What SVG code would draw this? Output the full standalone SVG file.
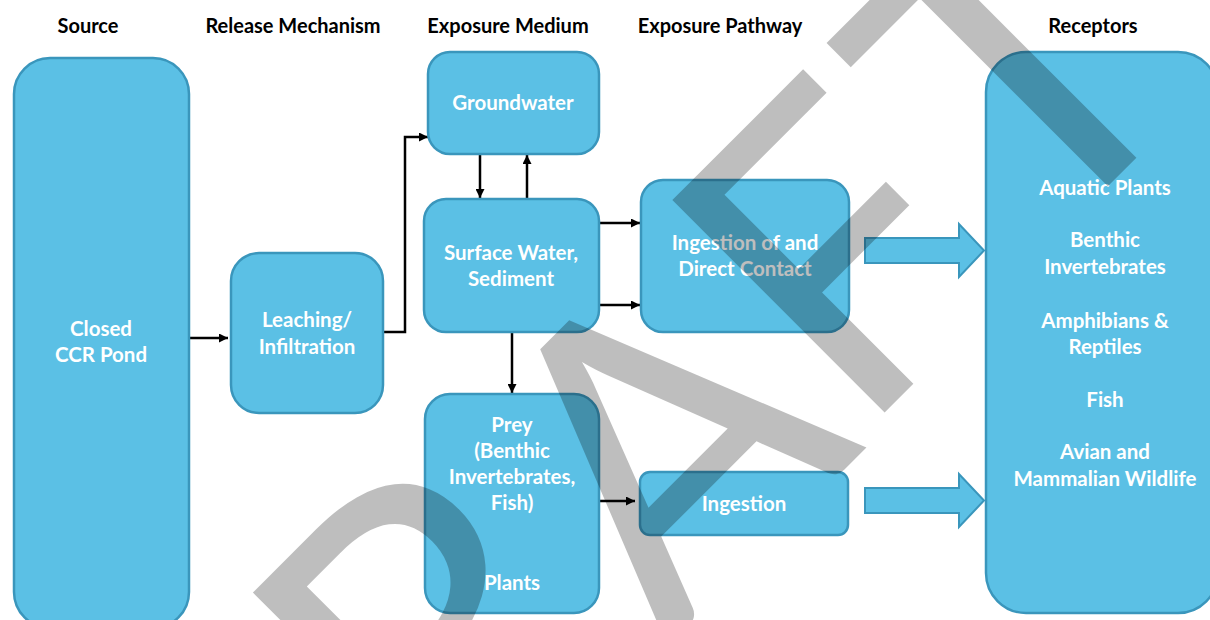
<svg xmlns="http://www.w3.org/2000/svg" width="1210" height="620" viewBox="0 0 1210 620">
<defs>
<style>
.box{fill:#5BC0E5;stroke:#3A96BC;stroke-width:2.5}
.hdr{font-family:Lato,"Liberation Sans",sans-serif;font-weight:bold;font-size:20px;fill:#000;text-anchor:middle}
.lbl{font-family:Lato,"Liberation Sans",sans-serif;font-weight:bold;font-size:20.5px;fill:#fff;text-anchor:middle}
.con{fill:none;stroke:#000;stroke-width:2.5}
.barrow{fill:#5BC0E5;stroke:#3A96BC;stroke-width:2}
</style>
<marker id="ah" viewBox="0 0 10 10" refX="10" refY="5" markerWidth="9" markerHeight="9" markerUnits="userSpaceOnUse" orient="auto">
<path d="M0,0 L10,5 L0,10 z" fill="#000"/>
</marker>
</defs>
<rect width="1210" height="620" fill="#fff"/>
<g id="headers">
<text class="hdr" x="88" y="33">Source</text>
<text class="hdr" x="293" y="33">Release Mechanism</text>
<text class="hdr" x="508" y="33">Exposure Medium</text>
<text class="hdr" x="720" y="33">Exposure Pathway</text>
<text class="hdr" x="1093" y="33">Receptors</text>
</g>
<g id="connectors">
<line class="con" x1="190" y1="338" x2="228" y2="338" marker-end="url(#ah)"/>
<polyline class="con" points="383,332 405,332 405,137 428,137" marker-end="url(#ah)"/>
<line class="con" x1="480" y1="155" x2="480" y2="198" marker-end="url(#ah)"/>
<line class="con" x1="527" y1="198" x2="527" y2="155" marker-end="url(#ah)"/>
<line class="con" x1="599" y1="223" x2="640" y2="223" marker-end="url(#ah)"/>
<line class="con" x1="599" y1="305" x2="640" y2="305" marker-end="url(#ah)"/>
<line class="con" x1="512" y1="332" x2="512" y2="393" marker-end="url(#ah)"/>
<line class="con" x1="599" y1="501" x2="635" y2="501" marker-end="url(#ah)"/>
<path class="barrow" d="M865,238 H959 V224 L984,250.5 L959,277 V263 H865 Z"/>
<path class="barrow" d="M865,488 H959 V474 L984,500.5 L959,527 V513 H865 Z"/>
</g>
<g id="n-source">
<rect class="box" x="14" y="58" width="175" height="570" rx="36"/>
<text class="lbl" x="101" y="336">Closed</text>
<text class="lbl" x="101" y="362">CCR Pond</text>
</g>
<g id="n-leaching">
<rect class="box" x="231" y="253" width="152" height="160" rx="28"/>
<text class="lbl" x="307" y="327">Leaching/</text>
<text class="lbl" x="307" y="354">Infiltration</text>
</g>
<g id="n-groundwater">
<rect class="box" x="428" y="52" width="171" height="102" rx="22"/>
<text class="lbl" x="513" y="110">Groundwater</text>
</g>
<g id="n-surface">
<rect class="box" x="424" y="199" width="175" height="133" rx="22"/>
<text class="lbl" x="511" y="260">Surface Water,</text>
<text class="lbl" x="511" y="286">Sediment</text>
</g>
<g id="n-prey">
<rect class="box" x="425" y="394" width="174" height="219" rx="25"/>
<text class="lbl" x="512" y="432">Prey</text>
<text class="lbl" x="512" y="458">(Benthic</text>
<text class="lbl" x="512" y="484">Invertebrates,</text>
<text class="lbl" x="512" y="510">Fish)</text>
<text class="lbl" x="512" y="590">Plants</text>
</g>
<g id="n-contact">
<rect class="box" x="641" y="180" width="208" height="152" rx="22"/>
<text class="lbl" x="745" y="250">Ingestion of and</text>
<text class="lbl" x="745" y="276">Direct Contact</text>
</g>
<g id="n-ingestion">
<rect class="box" x="640" y="472" width="208" height="63" rx="10"/>
<text class="lbl" x="744" y="511">Ingestion</text>
</g>
<g id="n-receptors">
<rect class="box" x="986" y="52" width="232" height="561" rx="40"/>
<text class="lbl" x="1105" y="195">Aquatic Plants</text>
<text class="lbl" x="1105" y="247">Benthic</text>
<text class="lbl" x="1105" y="274">Invertebrates</text>
<text class="lbl" x="1105" y="328">Amphibians &amp;</text>
<text class="lbl" x="1105" y="354">Reptiles</text>
<text class="lbl" x="1105" y="407">Fish</text>
<text class="lbl" x="1105" y="459">Avian and</text>
<text class="lbl" x="1105" y="486">Mammalian Wildlife</text>
</g>
<g id="watermark" opacity="0.25" fill="#000" font-family="Lato,'Liberation Sans',sans-serif" font-size="419" transform="translate(767,547) rotate(-45)">
<text x="-436" y="-16" font-size="440">R</text>
<text x="0" y="0" text-anchor="middle">A</text>
<text x="140" y="-12">F</text>
<text x="516" y="-14" text-anchor="middle">T</text>
</g>
</svg>
